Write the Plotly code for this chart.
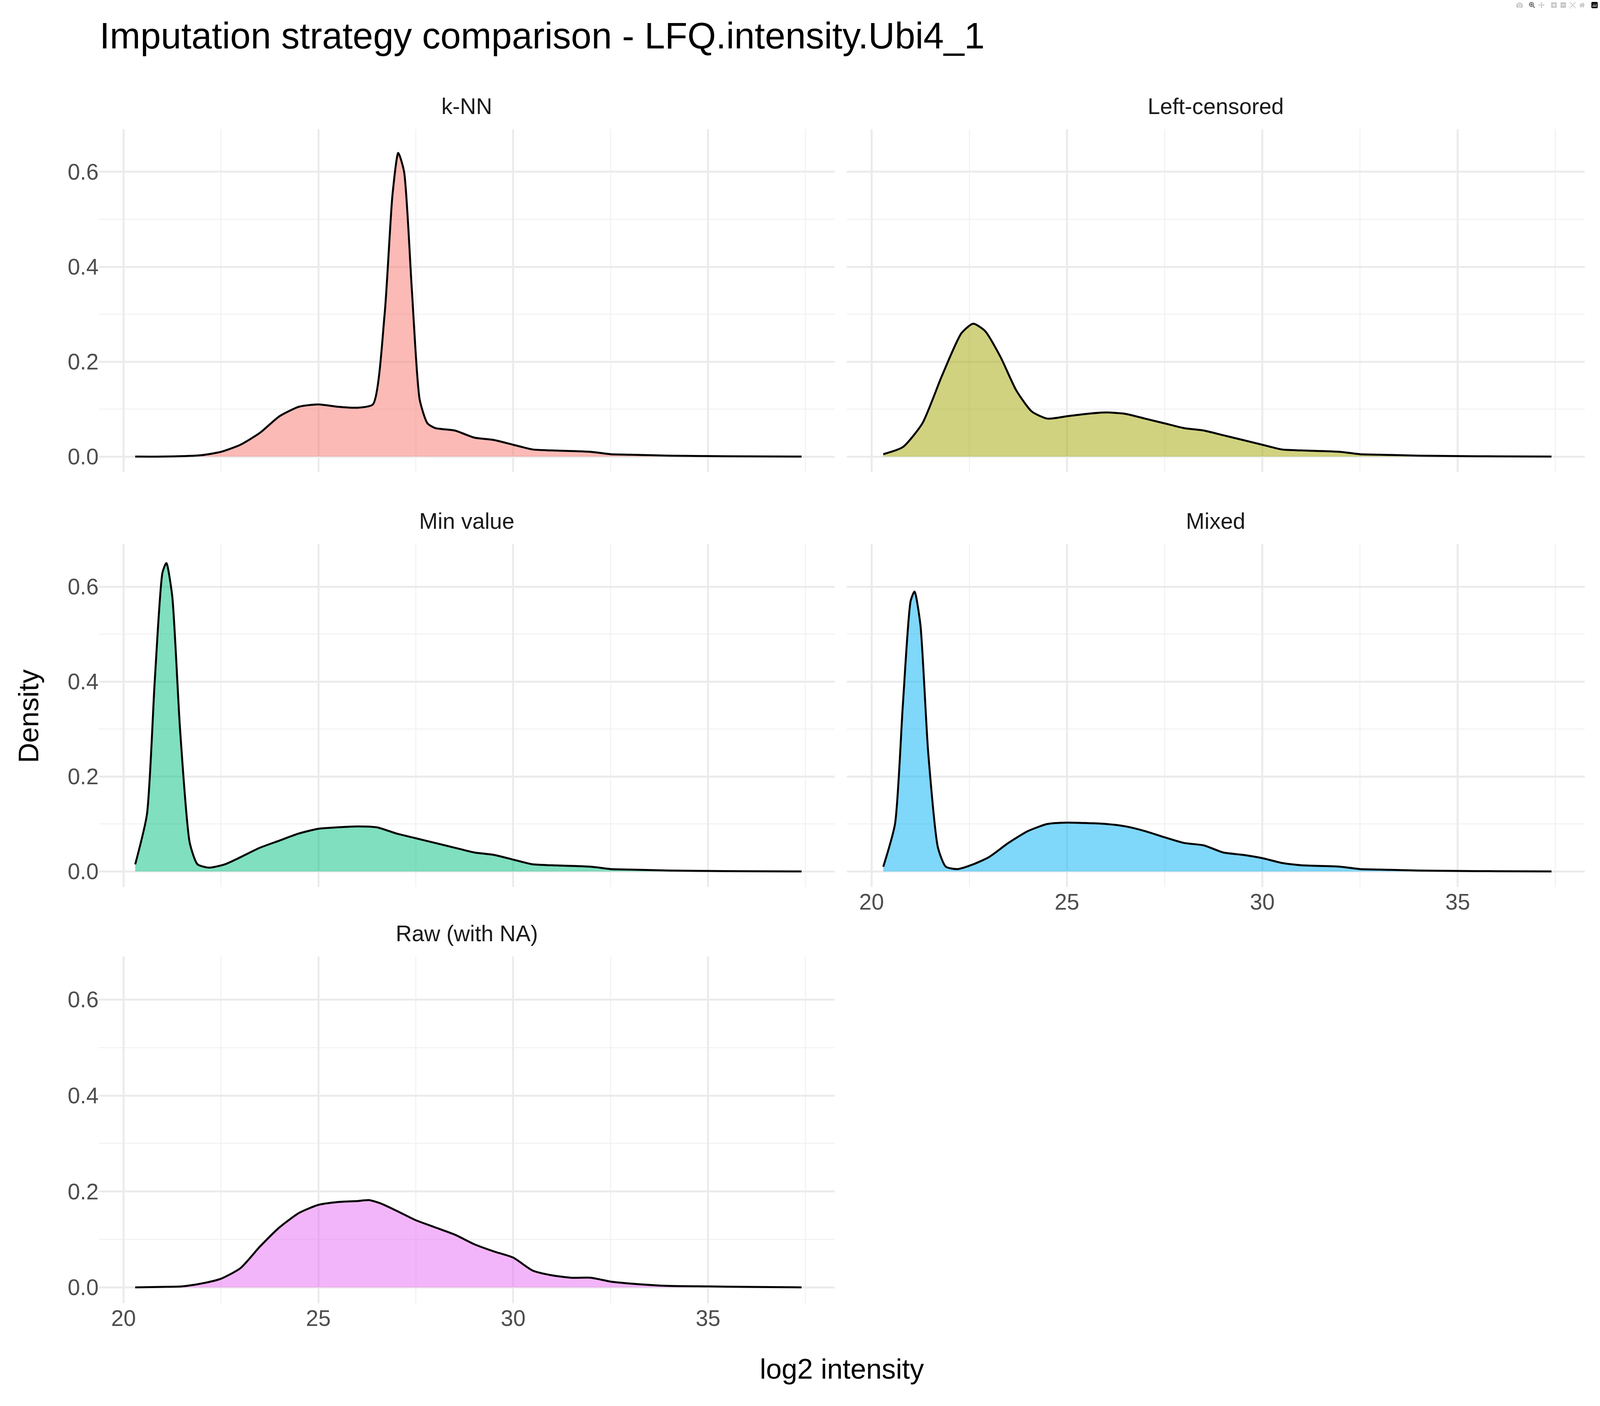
import plotly.graph_objects as go

panels = ["k-NN", "Left-censored", "Min value", "Mixed", "Raw (with NA)"]
fills = ["rgba(248,118,109,0.5)", "rgba(163,165,0,0.5)", "rgba(0,191,125,0.5)",
         "rgba(0,176,246,0.5)", "rgba(231,107,243,0.5)"]

tail_x = [31, 32, 32.5, 33, 34, 35, 36, 37.4]
tail_y = [0.013, 0.01, 0.005, 0.004, 0.002, 0.001, 0.0005, 0.0]

knn_x = [20.3, 21, 22, 22.5, 23, 23.5, 24, 24.5, 25, 25.5, 26, 26.4, 26.7, 26.9, 27.05, 27.2, 27.4, 27.6, 27.8, 28, 28.5, 29, 29.5, 30, 30.5] + tail_x
knn_y = [0, 0, 0.003, 0.01, 0.025, 0.05, 0.085, 0.105, 0.11, 0.105, 0.103, 0.11, 0.3, 0.55, 0.64, 0.6, 0.35, 0.12, 0.07, 0.06, 0.055, 0.04, 0.035, 0.025, 0.015] + tail_y

lc_x = [20.3, 20.8, 21.3, 21.8, 22.3, 22.6, 22.9, 23.3, 23.7, 24.1, 24.5, 25, 25.5, 26, 26.5, 27, 27.5, 28, 28.5, 29, 29.5, 30, 30.5] + tail_x
lc_y = [0.005, 0.02, 0.07, 0.17, 0.26, 0.28, 0.265, 0.21, 0.14, 0.095, 0.08, 0.085, 0.09, 0.093, 0.09, 0.08, 0.07, 0.06, 0.055, 0.045, 0.035, 0.025, 0.015] + tail_y

min_x = [20.3, 20.6, 20.8, 21.0, 21.1, 21.25, 21.45, 21.7, 21.9, 22.2, 22.6, 23, 23.5, 24, 24.5, 25, 25.5, 26, 26.5, 27, 27.5, 28, 28.5, 29, 29.5, 30, 30.5] + tail_x
min_y = [0.015, 0.12, 0.4, 0.63, 0.65, 0.58, 0.3, 0.06, 0.015, 0.008, 0.015, 0.03, 0.05, 0.065, 0.08, 0.09, 0.093, 0.095, 0.093, 0.08, 0.07, 0.06, 0.05, 0.04, 0.035, 0.025, 0.015] + tail_y

mix_x = [20.3, 20.6, 20.8, 21.0, 21.1, 21.25, 21.45, 21.7, 21.9, 22.2, 22.6, 23, 23.5, 24, 24.5, 25, 25.5, 26, 26.5, 27, 27.5, 28, 28.5, 29, 29.5, 30, 30.5] + tail_x
mix_y = [0.01, 0.1, 0.35, 0.57, 0.59, 0.52, 0.25, 0.05, 0.01, 0.005, 0.015, 0.03, 0.06, 0.085, 0.1, 0.103, 0.102, 0.1, 0.095, 0.085, 0.072, 0.06, 0.055, 0.04, 0.035, 0.028, 0.018] + tail_y

raw_x = [20.3, 21, 21.5, 22, 22.5, 23, 23.5, 24, 24.5, 25, 25.5, 26, 26.3, 26.6, 27, 27.5, 28, 28.5, 29, 29.5, 30, 30.5, 31, 31.5, 32, 32.5, 33, 34, 35, 36, 37.4]
raw_y = [0, 0.001, 0.002, 0.008, 0.018, 0.04, 0.085, 0.125, 0.155, 0.172, 0.178, 0.18, 0.182, 0.175, 0.16, 0.14, 0.125, 0.11, 0.09, 0.075, 0.062, 0.035, 0.025, 0.02, 0.02, 0.012, 0.008, 0.003, 0.002, 0.001, 0]

data = [(knn_x, knn_y), (lc_x, lc_y), (min_x, min_y), (mix_x, mix_y), (raw_x, raw_y)]

W, H = 1568, 1176
xdom = [(97 / W, 818 / W), (830 / W, 1553 / W)]
ydom = [(1 - 395 / H, 1 - 108 / H), (1 - 742 / H, 1 - 455 / H), (1 - 1090 / H, 1 - 800 / H)]

FONT = "Liberation Sans, Arial, sans-serif"
TICK = 57
fig = go.Figure()
ann = []
for i, (name, (xs, ys)) in enumerate(zip(panels, data)):
    r, c = divmod(i, 2)
    k = "" if i == 0 else str(i + 1)
    fig.add_trace(go.Scatter(x=xs, y=ys, mode="lines", line=dict(color="black", width=5, shape="spline", smoothing=0.6),
                             fill="tozeroy", fillcolor=fills[i], xaxis="x" + k, yaxis="y" + k, showlegend=False))
    showx = i in (3, 4)
    fig.layout["xaxis" + k] = dict(domain=xdom[c], anchor="y" + k, range=[19.37, 38.25], tick0=20, dtick=5,
                                   showticklabels=showx, showgrid=True, gridcolor="#EBEBEB", gridwidth=4.5,
                                   minor=dict(tick0=22.5, dtick=5, showgrid=True, gridcolor="#F3F3F3", gridwidth=2.5),
                                   zeroline=False, showline=False, ticks="",
                                   tickfont=dict(size=TICK, color="#4D4D4D", family=FONT))
    fig.layout["yaxis" + k] = dict(domain=ydom[r], anchor="x" + k, range=[-0.033, 0.69], tick0=0, dtick=0.2,
                                   showticklabels=(c == 0), tickformat=".1f", showgrid=True, gridcolor="#EBEBEB", gridwidth=4.5,
                                   minor=dict(tick0=0.1, dtick=0.2, showgrid=True, gridcolor="#F3F3F3", gridwidth=2.5),
                                   zeroline=False, showline=False, ticks="",
                                   tickfont=dict(size=TICK, color="#4D4D4D", family=FONT))
    ann.append(dict(text=name, x=sum(xdom[c]) / 2, y=ydom[r][1] + 8 / H, xref="paper", yref="paper",
                    xanchor="center", yanchor="bottom", showarrow=False, font=dict(size=TICK, color="#1A1A1A", family=FONT)))

ann.append(dict(text="Density", x=28 / W, y=(ydom[0][1] + ydom[2][0]) / 2, xref="paper", yref="paper", textangle=-90,
                showarrow=False, xanchor="center", yanchor="middle", font=dict(size=72, color="black", family=FONT)))
ann.append(dict(text="log2 intensity", x=825 / W, y=1 - 1145 / H, xref="paper", yref="paper", showarrow=False,
                xanchor="center", yanchor="middle", font=dict(size=72, color="black", family=FONT)))
ann.append(dict(text="Imputation strategy comparison - LFQ.intensity.Ubi4_1", x=97 / W, y=1 - 30 / H, xref="paper", yref="paper",
                showarrow=False, xanchor="left", yanchor="middle", font=dict(size=94, color="black", family=FONT)))

fig.update_layout(autosize=True, margin=dict(l=0, r=0, t=0, b=0), paper_bgcolor="white",
                  plot_bgcolor="white", annotations=ann)
fig.write_html("out.html", default_width="100%", default_height="100%")

with open("out.html", encoding="utf-8") as f:
    html = f.read()
html = html.replace("<head>", "<head><style>html,body{margin:0;padding:0;width:100%;height:100%;overflow:hidden}</style>", 1)
with open("out.html", "w", encoding="utf-8") as f:
    f.write(html)
